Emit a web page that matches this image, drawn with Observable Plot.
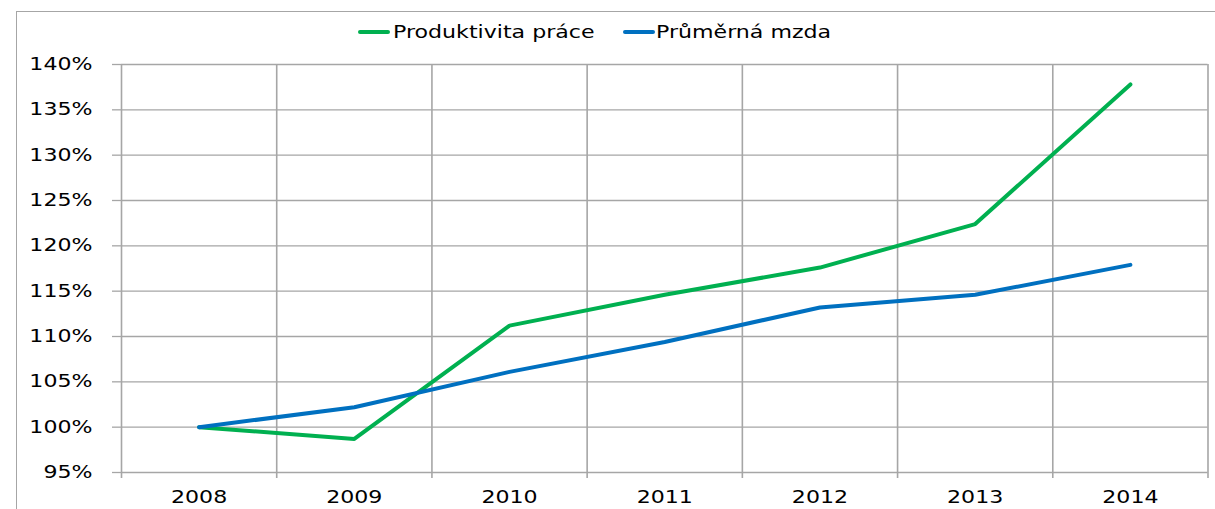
<!DOCTYPE html>
<html>
<head>
<meta charset="utf-8">
<script src="https://cdn.jsdelivr.net/npm/d3@7"></script>
<script src="https://cdn.jsdelivr.net/npm/@observablehq/plot@0.6"></script>
<style>
  html, body { margin: 0; padding: 0; background: #fff; }
  #wrap { position: relative; width: 1215px; height: 509px; overflow: hidden; font-family: "DejaVu Sans", sans-serif; }
  #frame { position: absolute; left: 16px; top: 11px; width: 1300px; height: 600px; border-left: 1.5px solid #a6a6a6; border-top: 1.5px solid #a6a6a6; }
  #chart { position: absolute; left: 0; top: 0; }
  .sw { position: absolute; height: 4px; border-radius: 2px; }
  .lt { position: absolute; font-size: 17px; color: #000; transform: scaleX(1.3); transform-origin: left center; white-space: nowrap; line-height: 20px; }
</style>
</head>
<body>
<div id="wrap">
  <div id="frame"></div>
  <div id="chart"></div>
  <div id="legend"></div>
</div>
<script>
const years = [2008, 2009, 2010, 2011, 2012, 2013, 2014];
const productivity = [100, 98.7, 111.2, 114.6, 117.6, 122.4, 137.8];
const wage = [100, 102.2, 106.1, 109.4, 113.2, 114.6, 117.9];
const seriesNames = ["Produktivita práce", "Průměrná mzda"];
const seriesColors = ["#00b050", "#0070c0"];
const yTicks = [95, 100, 105, 110, 115, 120, 125, 130, 135, 140];

const data = [
  ...years.map((yr, i) => ({year: yr, value: productivity[i], series: seriesNames[0]})),
  ...years.map((yr, i) => ({year: yr, value: wage[i], series: seriesNames[1]}))
];
const boundaries = [...years.map(y => y - 0.5), years[years.length - 1] + 0.5];

const grid = "#a6a6a6";
const plot = Plot.plot({
  width: 1215,
  height: 509,
  marginLeft: 121,
  marginRight: 7.5,
  marginTop: 64,
  marginBottom: 37,
  style: {fontFamily: "DejaVu Sans, sans-serif", fontSize: "17px", color: "#000", background: "transparent"},
  x: {domain: [boundaries[0], boundaries[boundaries.length - 1]]},
  y: {domain: [95, 140]},
  color: {domain: seriesNames, range: seriesColors},
  marks: [
    Plot.ruleY(yTicks, {stroke: grid, strokeWidth: 1.3, strokeOpacity: 1}),
    Plot.ruleX(boundaries, {y1: 140, y2: 95, insetBottom: -6, stroke: grid, strokeWidth: 1.6, strokeOpacity: 1}),
    Plot.axisY(yTicks, {tickSize: 9, tickPadding: 20, stroke: grid, strokeWidth: 1.3, strokeOpacity: 1, tickFormat: d => d + "%", fill: "#000", label: null}),
    Plot.axisX(years, {tickSize: 0, tickPadding: 18, tickFormat: d => String(d), fill: "#000", label: null}),
    Plot.line(data, {x: "year", y: "value", z: "series", stroke: "series", strokeWidth: 4, strokeLinecap: "round", strokeLinejoin: "round"})
  ]
});
document.getElementById("chart").appendChild(plot);

// horizontal stretch of the text, around each label's anchor
plot.querySelectorAll("text").forEach(t => {
  const tr = t.getAttribute("transform") || "";
  t.setAttribute("transform", `${tr} scale(1.3,1)`);
});

// legend
const legend = document.getElementById("legend");
const legendPos = [{sw: 358, tx: 393}, {sw: 623, tx: 656}];
seriesNames.forEach((name, i) => {
  const sw = document.createElement("div");
  sw.className = "sw";
  sw.style.left = legendPos[i].sw + "px";
  sw.style.top = "30px";
  sw.style.width = "32px";
  sw.style.background = seriesColors[i];
  legend.appendChild(sw);
  const tx = document.createElement("div");
  tx.className = "lt";
  tx.style.left = legendPos[i].tx + "px";
  tx.style.top = "22px";
  tx.textContent = name;
  legend.appendChild(tx);
});
</script>
</body>
</html>
